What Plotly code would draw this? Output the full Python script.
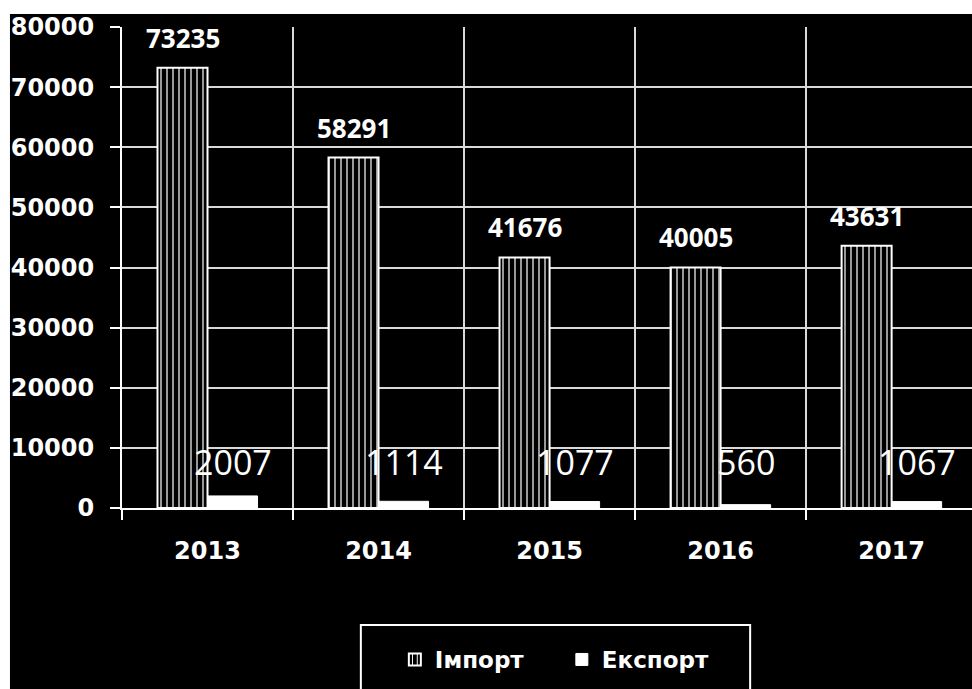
import plotly.graph_objects as go

years = ["2013", "2014", "2015", "2016", "2017"]
imports = [73235, 58291, 41676, 40005, 43631]
exports = [2007, 1114, 1077, 560, 1067]
series_names = ["Імпорт", "Експорт"]
y_ticks = [0, 10000, 20000, 30000, 40000, 50000, 60000, 70000, 80000]

fig = go.Figure()
fig.add_trace(go.Bar(
    x=years, y=imports, name=series_names[0],
    marker=dict(color="black",
                line=dict(color="white", width=2),
                pattern=dict(shape="|", fgcolor="white", bgcolor="black",
                             size=6, solidity=0.2, fillmode="replace")),
))
fig.add_trace(go.Bar(
    x=years, y=exports, name=series_names[1],
    marker=dict(color="white", line=dict(color="white", width=1)),
))

annotations = []
for i, v in enumerate(imports):
    annotations.append(dict(x=i, y=v, xref="x", yref="y", text=str(v),
                            showarrow=False, xshift=-25, yshift=30,
                            yanchor="middle",
                            font=dict(family="Open Sans", size=26, color="white", weight="bold")))
for i, v in enumerate(exports):
    annotations.append(dict(x=i, y=0, xref="x", yref="y", text=str(v),
                            showarrow=False, xshift=25, yshift=46,
                            yanchor="middle",
                            font=dict(family="Open Sans", size=34, color="white")))

tickfont = dict(family="DejaVu Sans", size=24, color="white", weight="bold")

fig.update_layout(
    width=972, height=689,
    margin=dict(l=122, r=0, t=27, b=181),
    paper_bgcolor="white",
    plot_bgcolor="black",
    barmode="group",
    bargap=0.415,
    bargroupgap=0,
    showlegend=True,
    legend=dict(orientation="h", x=0.321, xanchor="left", y=-0.315, yanchor="middle",
                bgcolor="rgba(0,0,0,0)", entrywidth=122, entrywidthmode="pixels",
                font=dict(family="DejaVu Sans", size=23, color="white", weight="bold")),
    annotations=annotations,
    shapes=[
        dict(type="rect", xref="paper", yref="paper", x0=-0.1318, x1=1.0,
             y0=-0.38, y1=1.0270, fillcolor="black", line=dict(width=0), layer="below"),
        dict(type="rect", xref="paper", yref="paper", x0=0.281, x1=0.739,
             y0=-0.40, y1=-0.2432, fillcolor="rgba(0,0,0,0)",
             line=dict(color="white", width=2), layer="above"),
    ],
    xaxis=dict(type="category", range=[-0.5, 4.47], tickson="boundaries",
               showgrid=True, gridcolor="#d9d9d9", gridwidth=1.5,
               showline=True, linecolor="white", linewidth=2,
               ticks="outside", ticklen=10, tickcolor="white", tickwidth=2,
               ticklabelstandoff=20, tickfont=tickfont),
    yaxis=dict(range=[0, 80000], tickvals=y_ticks, ticktext=[str(t) for t in y_ticks],
               showgrid=True, gridcolor="#d9d9d9", gridwidth=1.5, zeroline=False,
               showline=True, linecolor="white", linewidth=2,
               ticks="outside", ticklen=10, tickcolor="white", tickwidth=2,
               ticklabelstandoff=11, tickfont=tickfont),
)

fig.write_html("out.html", config={"displayModeBar": False},
               post_script="document.body.style.margin='0';document.body.style.overflow='hidden';")
